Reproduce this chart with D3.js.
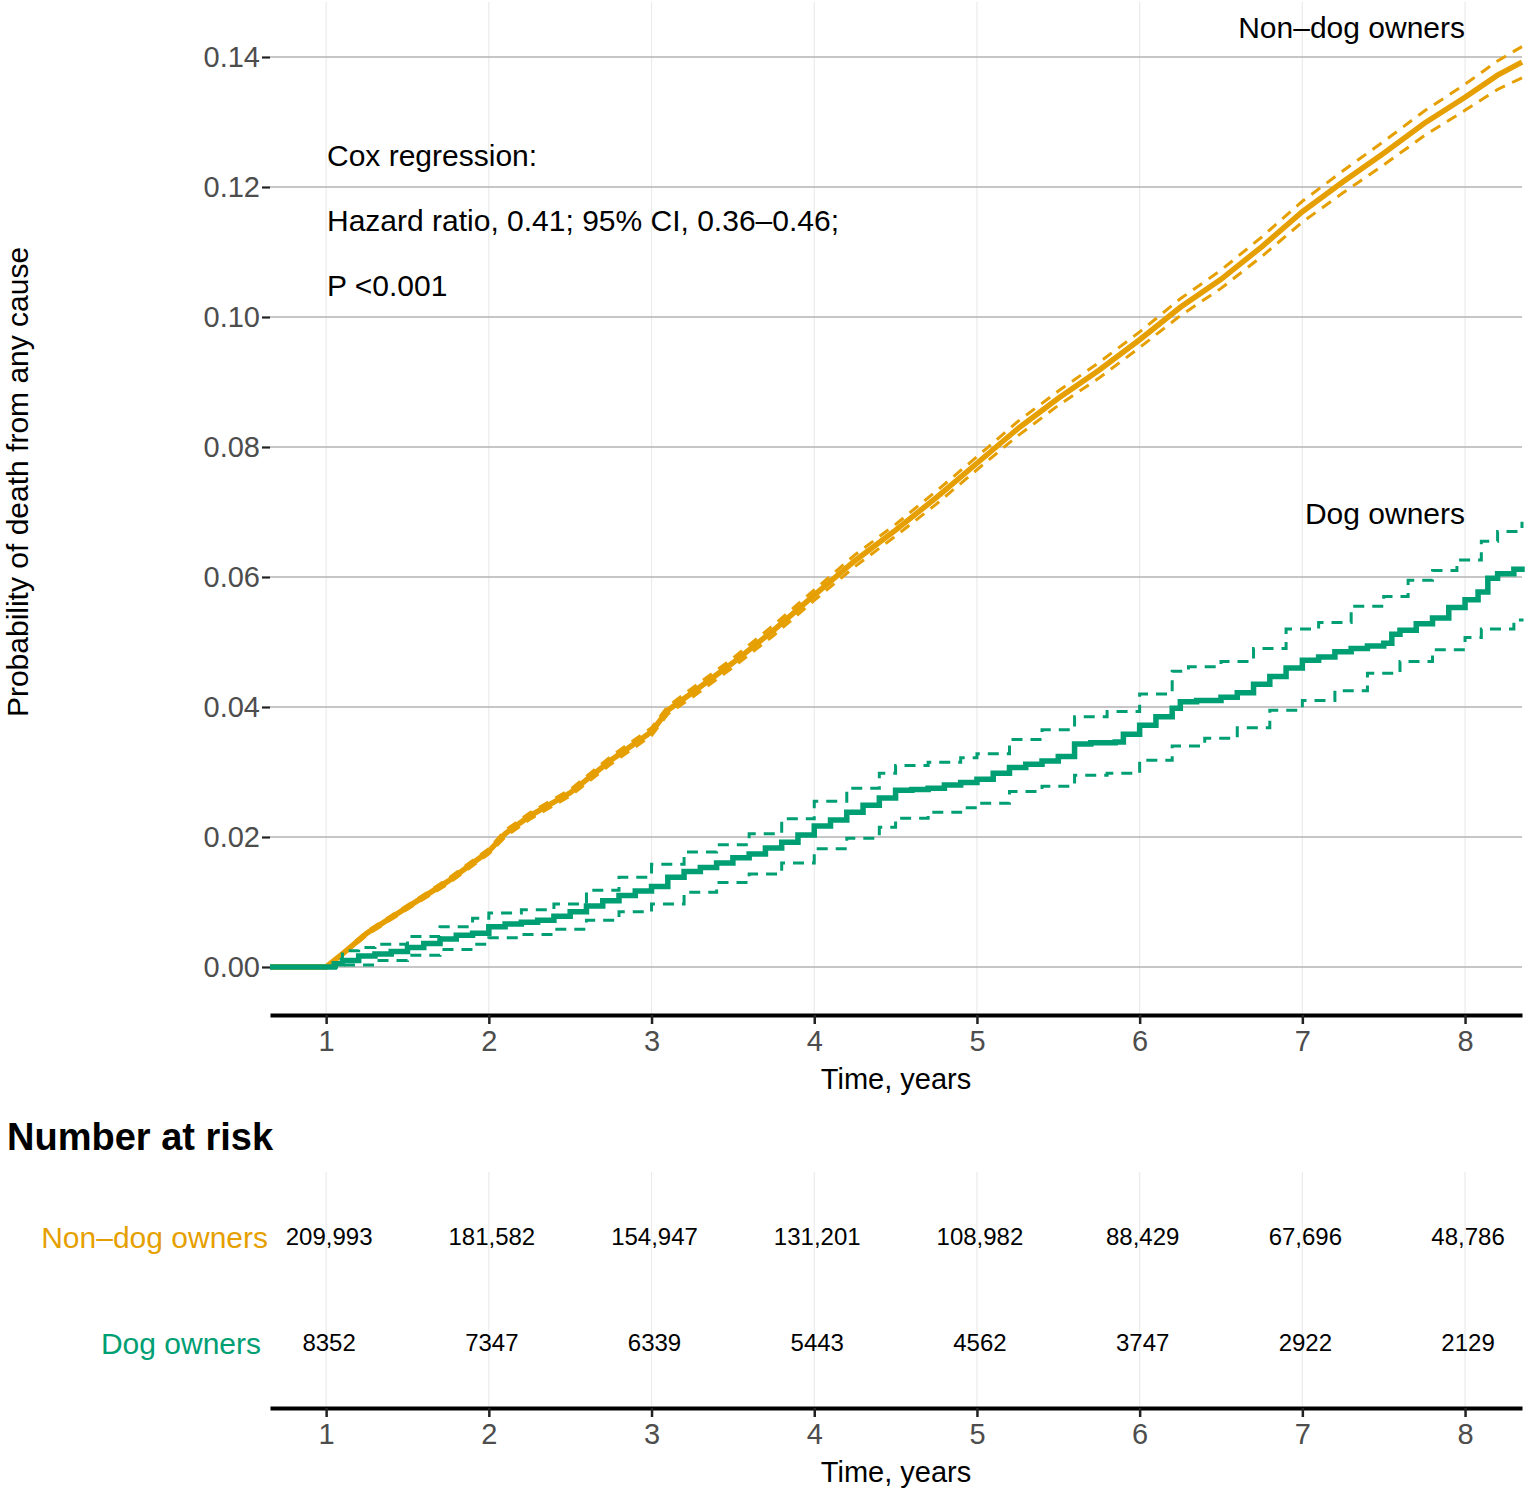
<!DOCTYPE html>
<html>
<head>
<meta charset="utf-8">
<script src="https://cdn.jsdelivr.net/npm/d3@7"></script>
<style>
  body { margin: 0; background: #fff; }
  text { font-family: "Liberation Sans", Arial, sans-serif; }
</style>
</head>
<body>
<div id="chart"></div>
<script>
// --- data ---
const years = [1, 2, 3, 4, 5, 6, 7, 8];
const yTicks = [0, 0.02, 0.04, 0.06, 0.08, 0.10, 0.12, 0.14];

// Non-dog owners (cumulative probability + 95% CI)
const nonDogTime  = [0.655, 1.0, 1.1, 1.25, 1.5, 1.75, 2.0, 2.1, 2.25, 2.5, 2.75, 3.0, 3.1, 3.25, 3.5, 3.75, 4.0, 4.25, 4.5, 4.75, 5.0, 5.25, 5.5, 5.75, 6.0, 6.25, 6.5, 6.75, 7.0, 7.25, 7.5, 7.75, 8.0, 8.2, 8.35];
const nonDogEst   = [0, 0, 0.0020, 0.0052, 0.0092, 0.0132, 0.0178, 0.0205, 0.0232, 0.0268, 0.0318, 0.0362, 0.0395, 0.0422, 0.0468, 0.0518, 0.0572, 0.0625, 0.0672, 0.0722, 0.0775, 0.0828, 0.0875, 0.0918, 0.0965, 0.1015, 0.1058, 0.1108, 0.1162, 0.1208, 0.1252, 0.1298, 0.1338, 0.1372, 0.1392];
const nonDogUpper = [0, 0, 0.0022, 0.0055, 0.0095, 0.0136, 0.0182, 0.0210, 0.0237, 0.0273, 0.0324, 0.0368, 0.0401, 0.0429, 0.0475, 0.0526, 0.0580, 0.0634, 0.0681, 0.0732, 0.0785, 0.0839, 0.0886, 0.0930, 0.0977, 0.1028, 0.1072, 0.1123, 0.1178, 0.1225, 0.1270, 0.1317, 0.1358, 0.1394, 0.1416];
const nonDogLower = [0, 0, 0.0018, 0.0049, 0.0089, 0.0128, 0.0174, 0.0200, 0.0227, 0.0263, 0.0312, 0.0356, 0.0389, 0.0415, 0.0461, 0.0510, 0.0564, 0.0616, 0.0663, 0.0712, 0.0765, 0.0817, 0.0864, 0.0906, 0.0953, 0.1002, 0.1044, 0.1093, 0.1146, 0.1191, 0.1234, 0.1279, 0.1318, 0.1350, 0.1368];

// Dog owners
const dogTime = [0.655, 1.0, 1.05, 1.1, 1.2, 1.3, 1.4, 1.5, 1.6, 1.7, 1.8, 1.9, 2.0, 2.1, 2.2, 2.3, 2.4, 2.5, 2.6, 2.7, 2.8, 2.9, 3.0, 3.1, 3.2, 3.3, 3.4, 3.5, 3.6, 3.7, 3.8, 3.9, 4.0, 4.1, 4.2, 4.3, 4.4, 4.5, 4.6, 4.7, 4.8, 4.9, 5.0, 5.1, 5.2, 5.3, 5.4, 5.5, 5.6, 5.7, 5.85, 5.9, 6.0, 6.1, 6.2, 6.25, 6.35, 6.5, 6.6, 6.7, 6.8, 6.9, 7.0, 7.1, 7.2, 7.3, 7.4, 7.5, 7.55, 7.6, 7.7, 7.8, 7.9, 8.0, 8.08, 8.14, 8.2, 8.3, 8.35];
const dogEst  = [0, 0, 0.0005, 0.0010, 0.0017, 0.0020, 0.0024, 0.0030, 0.0036, 0.0043, 0.0049, 0.0052, 0.0062, 0.0066, 0.0069, 0.0072, 0.0078, 0.0085, 0.0094, 0.0102, 0.0110, 0.0117, 0.0124, 0.0138, 0.0147, 0.0153, 0.0160, 0.0168, 0.0174, 0.0183, 0.0192, 0.0203, 0.0217, 0.0226, 0.0238, 0.0249, 0.0260, 0.0272, 0.0273, 0.0275, 0.0280, 0.0284, 0.0289, 0.0298, 0.0307, 0.0312, 0.0317, 0.0324, 0.0343, 0.0345, 0.0346, 0.0358, 0.0372, 0.0385, 0.0398, 0.0408, 0.0410, 0.0415, 0.0422, 0.0435, 0.0447, 0.0460, 0.0472, 0.0477, 0.0485, 0.0490, 0.0494, 0.0498, 0.0512, 0.0518, 0.0528, 0.0537, 0.0553, 0.0565, 0.0577, 0.0598, 0.0605, 0.0612, 0.0616];

const dogUpperTime = [0.655, 1.0, 1.1, 1.2, 1.3, 1.5, 1.7, 1.9, 2.0, 2.2, 2.4, 2.6, 2.8, 3.0, 3.2, 3.4, 3.6, 3.8, 4.0, 4.2, 4.4, 4.5, 4.7, 4.9, 5.0, 5.2, 5.4, 5.6, 5.8, 6.0, 6.2, 6.3, 6.5, 6.7, 6.9, 7.1, 7.3, 7.5, 7.65, 7.8, 7.95, 8.1, 8.2, 8.35];
const dogUpper     = [0, 0, 0.0025, 0.0030, 0.0035, 0.0047, 0.0062, 0.0075, 0.0083, 0.0088, 0.0097, 0.0118, 0.0138, 0.0158, 0.0177, 0.0188, 0.0205, 0.0228, 0.0255, 0.0275, 0.0298, 0.0310, 0.0315, 0.0322, 0.0328, 0.0350, 0.0365, 0.0385, 0.0393, 0.0420, 0.0455, 0.0462, 0.0470, 0.0490, 0.0520, 0.0530, 0.0555, 0.0570, 0.0595, 0.0610, 0.0626, 0.0655, 0.0670, 0.0685];

const dogLowerTime = [0.655, 1.0, 1.1, 1.3, 1.5, 1.7, 1.9, 2.0, 2.2, 2.4, 2.6, 2.8, 3.0, 3.2, 3.4, 3.6, 3.8, 4.0, 4.2, 4.4, 4.5, 4.7, 4.9, 5.0, 5.2, 5.4, 5.6, 5.8, 6.0, 6.2, 6.4, 6.6, 6.8, 7.0, 7.2, 7.4, 7.6, 7.8, 8.0, 8.1, 8.3, 8.35];
const dogLower     = [0, 0, 0.0003, 0.0010, 0.0018, 0.0027, 0.0035, 0.0045, 0.0050, 0.0058, 0.0072, 0.0085, 0.0097, 0.0115, 0.0130, 0.0143, 0.0160, 0.0182, 0.0198, 0.0215, 0.0229, 0.0238, 0.0245, 0.0252, 0.0270, 0.0278, 0.0295, 0.0298, 0.0318, 0.0340, 0.0352, 0.0368, 0.0395, 0.0410, 0.0425, 0.0452, 0.0470, 0.0488, 0.0507, 0.0520, 0.0534, 0.0536];

// number at risk
const riskGroups = ["Non\u2013dog owners", "Dog owners"];
const riskNonDog = [209993, 181582, 154947, 131201, 108982, 88429, 67696, 48786];
const riskDog = [8352, 7347, 6339, 5443, 4562, 3747, 2922, 2129];

const coxLines = ["Cox regression:", "Hazard ratio, 0.41; 95% CI, 0.36\u20130.46;", "P <0.001"];

// --- layout ---
const W = 1535, H = 1496;
const orange = "#E69F00", green = "#009E73";
const left = 270, right = 1522;
const panelTop = 2, panelBottom = 1013;

const svg = d3.select("#chart").append("svg")
  .attr("width", W)
  .attr("height", H);

const x = d3.scaleLinear().domain([0.655, 8.35]).range([left, right]);
const y = d3.scaleLinear().domain([-0.00708, 0.14846]).range([panelBottom, panelTop]);

// vertical grid (main panel)
svg.append("g")
  .selectAll("line")
  .data(years)
  .join("line")
    .attr("x1", d => x(d)).attr("x2", d => x(d))
    .attr("y1", panelTop).attr("y2", panelBottom)
    .attr("stroke", "#ebebeb")
    .attr("stroke-width", 1.2);

// horizontal grid
svg.append("g")
  .selectAll("line")
  .data(yTicks)
  .join("line")
    .attr("x1", left).attr("x2", right)
    .attr("y1", d => y(d)).attr("y2", d => y(d))
    .attr("stroke", "#b3b3b3")
    .attr("stroke-width", 1.3);

// y axis (ticks + labels, no domain line)
const yAxis = svg.append("g")
  .attr("transform", `translate(${left},0)`)
  .call(d3.axisLeft(y).tickValues(yTicks).tickFormat(d3.format(".2f")).tickSize(8).tickPadding(2));
yAxis.select(".domain").remove();
yAxis.selectAll(".tick line").attr("stroke", "#222").attr("stroke-width", 2.2);
yAxis.selectAll(".tick text")
  .attr("fill", "#4d4d4d")
  .style("font-size", "29px")
  .style("font-family", "Liberation Sans, Arial, sans-serif");

svg.append("text")
  .attr("transform", `translate(28,${(y(0) + y(0.14)) / 2 - 30}) rotate(-90)`)
  .attr("text-anchor", "middle")
  .style("font-size", "30px")
  .text("Probability of death from any cause");

// x axis helper
function bottomAxis(yPos) {
  const g = svg.append("g")
    .attr("transform", `translate(0,${yPos})`)
    .call(d3.axisBottom(x).tickValues(years).tickFormat(d3.format("d")).tickSize(9).tickPadding(6).tickSizeOuter(0));
  g.select(".domain").attr("stroke", "#000").attr("stroke-width", 4);
  g.selectAll(".tick line").attr("stroke", "#222").attr("stroke-width", 2.5);
  g.selectAll(".tick text")
    .attr("fill", "#4d4d4d")
    .style("font-size", "29px")
    .style("font-family", "Liberation Sans, Arial, sans-serif");
  svg.append("text")
    .attr("x", (left + right) / 2)
    .attr("y", yPos + 74)
    .attr("text-anchor", "middle")
    .style("font-size", "29px")
    .text("Time, years");
}
bottomAxis(1015);

// curves
const pair = (t, v) => t.map((d, i) => [d, v[i]]);
const stepLine = d3.line().x(d => x(d[0])).y(d => y(d[1])).curve(d3.curveStepAfter);
const smoothLine = d3.line().x(d => x(d[0])).y(d => y(d[1]));

const curves = svg.append("g").attr("fill", "none");

curves.append("path").attr("d", smoothLine(pair(nonDogTime, nonDogUpper)))
  .attr("stroke", orange).attr("stroke-width", 3).attr("stroke-dasharray", "11,8");
curves.append("path").attr("d", smoothLine(pair(nonDogTime, nonDogLower)))
  .attr("stroke", orange).attr("stroke-width", 3).attr("stroke-dasharray", "11,8");
curves.append("path").attr("d", smoothLine(pair(nonDogTime, nonDogEst)))
  .attr("stroke", orange).attr("stroke-width", 5.5);

curves.append("path").attr("d", stepLine(pair(dogUpperTime, dogUpper)))
  .attr("stroke", green).attr("stroke-width", 3).attr("stroke-dasharray", "11,8");
curves.append("path").attr("d", stepLine(pair(dogLowerTime, dogLower)))
  .attr("stroke", green).attr("stroke-width", 3).attr("stroke-dasharray", "11,8");
curves.append("path").attr("d", stepLine(pair(dogTime, dogEst)))
  .attr("stroke", green).attr("stroke-width", 5.5);

// group labels
svg.append("text").attr("x", 1465).attr("y", 38).attr("text-anchor", "end")
  .style("font-size", "30px").text("Non\u2013dog owners");
svg.append("text").attr("x", 1465).attr("y", 524).attr("text-anchor", "end")
  .style("font-size", "30px").text("Dog owners");

// Cox annotation
svg.append("g")
  .selectAll("text")
  .data(coxLines)
  .join("text")
    .attr("x", 327)
    .attr("y", (d, i) => 166 + i * 65)
    .style("font-size", "30px")
    .text(d => d);

// --- number at risk table ---
svg.append("text")
  .attr("x", 7).attr("y", 1150)
  .style("font-size", "38px")
  .style("font-weight", "bold")
  .text("Number at risk");

svg.append("g")
  .selectAll("line")
  .data(years)
  .join("line")
    .attr("x1", d => x(d)).attr("x2", d => x(d))
    .attr("y1", 1172).attr("y2", 1406)
    .attr("stroke", "#ebebeb")
    .attr("stroke-width", 1.2);

const rowY = d3.scalePoint().domain(riskGroups).range([1237, 1343]);
const rows = [
  { name: riskGroups[0], color: orange, values: riskNonDog, fmt: d3.format(","), labelX: 268 },
  { name: riskGroups[1], color: green, values: riskDog, fmt: d3.format("d"), labelX: 261 }
];

rows.forEach(r => {
  svg.append("text")
    .attr("x", r.labelX)
    .attr("y", rowY(r.name))
    .attr("dy", "0.35em")
    .attr("text-anchor", "end")
    .attr("fill", r.color)
    .style("font-size", "30px")
    .text(r.name);

  svg.append("g")
    .selectAll("text")
    .data(r.values)
    .join("text")
      .attr("x", (d, i) => x(years[i]) + 3)
      .attr("y", rowY(r.name))
      .attr("dy", "0.35em")
      .attr("text-anchor", "middle")
      .style("font-size", "24px")
      .text(d => r.fmt(d));
});

bottomAxis(1408);
</script>
</body>
</html>
